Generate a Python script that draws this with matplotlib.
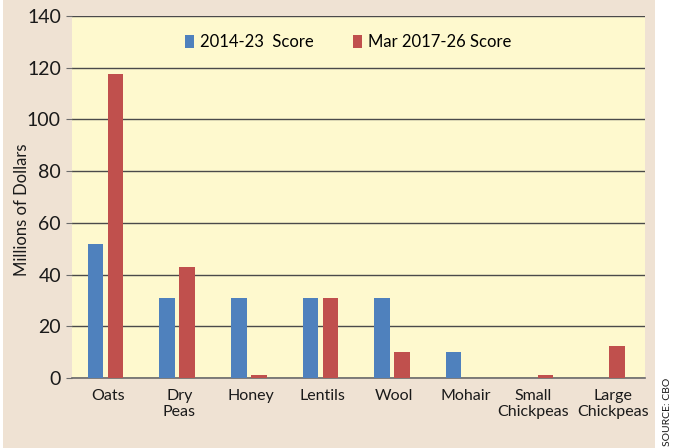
import matplotlib.pyplot as plt
from matplotlib.patches import Rectangle
from matplotlib.transforms import ScaledTranslation
import numpy as np

plt.rcParams['font.family'] = ['Lato', 'DejaVu Sans']

categories = ['Oats', 'Dry\nPeas', 'Honey', 'Lentils', 'Wool', 'Mohair',
              'Small\nChickpeas', 'Large\nChickpeas']
score_2014 = [52, 31, 31, 31, 31, 10, 0, 0]
score_2017 = [117.5, 43, 1, 31, 10, 0, 1.3, 12.5]
series_names = ['2014-23  Score', 'Mar 2017-26 Score']
yticks = [0, 20, 40, 60, 80, 100, 120, 140]

blue = '#4F81BD'
red = '#C0504D'

fig = plt.figure(figsize=(6.84, 4.48), dpi=100)
fig.patch.set_facecolor('white')
fig.patches.append(Rectangle((0.004, 0), 0.954, 1, transform=fig.transFigure,
                             facecolor='#EFE2D3', edgecolor='none', zorder=-10))

ax = fig.add_axes([0.1053, 0.1563, 0.8377, 0.808])
ax.set_facecolor('#FEF9CE')

x = np.arange(len(categories))
w = 0.217
ax.bar(x - 0.172, score_2014, w, color=blue, label=series_names[0], zorder=3)
ax.bar(x + 0.108, score_2017, w, color=red, label=series_names[1], zorder=3)

ax.set_xlim(-0.5, len(categories) - 0.5)
ax.set_ylim(0, 140)
ax.set_yticks(yticks)
ax.yaxis.grid(True, color='#4a4a4a', linewidth=1.0, zorder=1)
ax.set_axisbelow(True)

for s in ['left', 'right', 'top']:
    ax.spines[s].set_visible(False)
ax.spines['bottom'].set_color('#6b6b6b')
ax.spines['bottom'].set_linewidth(1.2)

ax.tick_params(axis='y', length=4, color='#6b6b6b', labelsize=14, pad=4,
               labelcolor='#1a1a1a')
ax.tick_params(axis='x', length=0, labelsize=11.5, pad=8, labelcolor='#1a1a1a')
ax.set_xticks(x)
ax.set_xticklabels(categories, linespacing=1.2)
# nudge the two long chickpea labels apart a little
labels = ax.get_xticklabels()
labels[6].set_transform(labels[6].get_transform()
                        + ScaledTranslation(-3 / 72, 0, fig.dpi_scale_trans))
labels[7].set_transform(labels[7].get_transform()
                        + ScaledTranslation(3 / 72, 0, fig.dpi_scale_trans))

leg = ax.legend(loc='center', bbox_to_anchor=(0.482, 0.928), ncol=2,
                frameon=False, fontsize=12, handlelength=0.55, handleheight=0.85,
                handletextpad=0.4, columnspacing=2.3)

fig.text(22 / 684, 1 - 210 / 448, 'Millions of Dollars', rotation=90,
         ha='center', va='center', fontsize=12, color='#1a1a1a')
fig.text(667 / 684, 1 - 412 / 448, 'SOURCE: CBO', rotation=90,
         ha='center', va='center', fontsize=7.5, color='#1a1a1a')

fig.savefig('out.png', dpi=100)
